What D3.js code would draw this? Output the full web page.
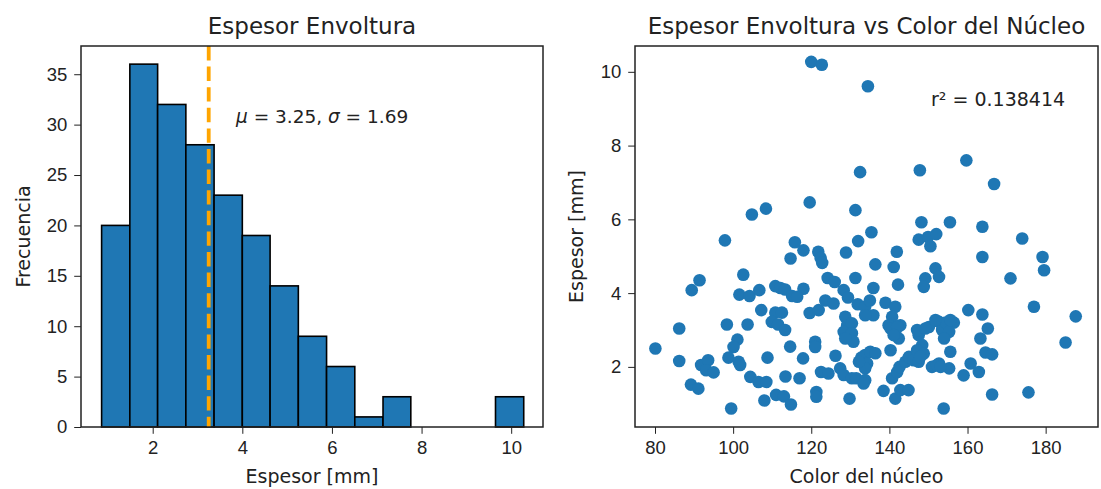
<!DOCTYPE html>
<html>

<head>
  <meta charset="utf-8">
  <title>Espesor Envoltura</title>
  <script type="text/javascript" src="https://cdn.jsdelivr.net/npm/d3@7"></script>
  <style>
    body { margin: 0; background: #fff; }
    svg { font-family: "DejaVu Sans", sans-serif; }
    .axis path, .axis line { stroke: #222; }
    .axis text { fill: #222; font-size: 18.5px; }
  </style>
</head>

<body>
  <script type="text/javascript">
    // Tamaño total
    const w = 1101;
    const h = 489;

    // Histograma: bordes de los bins y frecuencias
    const binEdges = [0.86, 1.49, 2.11, 2.74, 3.37, 4.00, 4.62, 5.25, 5.88, 6.51, 7.14, 7.76, 8.39, 9.02, 9.65, 10.28];
    const frecuencias = [20, 36, 32, 28, 23, 19, 14, 9, 6, 1, 3, 0, 0, 0, 3];
    const media = 3.25;
    const desv = 1.69;
    const histXTicks = [2, 4, 6, 8, 10];
    const histYTicks = [0, 5, 10, 15, 20, 25, 30, 35];

    // Dispersión: [color del núcleo, espesor]
    const puntos = [
      [120.0, 10.27], [122.7, 10.19], [134.5, 9.61], [132.5, 7.28], [147.8, 7.33], [159.7, 7.60], [166.8, 6.96],
      [119.6, 6.46], [131.3, 6.25], [104.8, 6.13], [108.4, 6.29], [148.2, 5.92], [155.5, 5.92], [163.8, 5.80],
      [135.4, 5.65], [174.0, 5.48], [97.9, 5.43], [115.8, 5.38], [132.0, 5.41], [147.5, 5.45], [149.9, 5.52],
      [152.0, 5.60], [150.5, 5.27], [118.0, 5.16], [114.7, 4.94], [121.8, 5.12], [122.4, 4.95], [122.8, 4.82],
      [128.9, 5.10], [136.4, 4.78], [141.9, 5.12], [141.1, 4.71], [142.2, 4.23], [151.8, 4.67], [149.2, 4.40],
      [148.8, 4.17], [152.7, 4.44], [163.8, 4.98], [179.2, 4.98], [179.6, 4.62], [171.0, 4.40], [177.0, 3.63],
      [187.7, 3.37], [185.1, 2.66], [102.6, 4.50], [91.4, 4.35], [89.4, 4.08], [101.6, 3.96], [104.2, 3.92],
      [106.7, 4.08], [110.8, 4.19], [112.1, 4.14], [113.3, 4.10], [115.1, 3.92], [107.2, 3.54], [110.8, 3.47],
      [112.5, 3.47], [109.9, 3.22], [111.5, 3.15], [113.3, 3.00], [86.2, 3.04], [98.4, 3.15], [103.7, 3.15],
      [80.1, 2.50], [101.1, 2.74], [100.1, 2.54], [98.8, 2.25], [101.4, 2.14], [101.8, 2.05], [86.2, 2.16],
      [91.8, 2.05], [93.6, 2.18], [93.1, 1.91], [95.0, 1.85], [108.8, 2.25], [114.6, 2.55], [104.4, 1.73],
      [106.5, 1.59], [108.5, 1.59], [89.2, 1.52], [91.1, 1.41], [111.0, 1.24], [113.0, 1.20], [108.0, 1.09],
      [114.8, 0.98], [113.4, 1.74], [99.5, 0.87], [118.0, 4.12], [116.4, 3.90], [119.6, 3.46], [121.9, 3.54],
      [123.6, 3.80], [125.7, 3.72], [124.2, 4.41], [126.0, 4.30], [131.3, 4.41], [135.9, 4.14], [121.0, 2.68],
      [121.0, 2.54], [117.9, 2.23], [126.2, 2.30], [122.5, 1.86], [124.4, 1.82], [127.4, 1.96], [128.3, 1.78],
      [130.4, 1.69], [131.5, 1.69], [121.3, 1.32], [121.3, 1.19], [117.0, 1.69], [129.8, 1.14], [128.3, 4.08],
      [129.4, 3.88], [131.9, 3.70], [133.8, 3.63], [135.0, 3.80], [135.9, 3.40], [133.8, 3.40], [128.7, 3.36],
      [129.2, 3.13], [130.4, 3.18], [128.3, 2.95], [130.4, 2.91], [130.8, 2.68], [128.7, 2.77], [139.0, 3.74],
      [141.5, 3.63], [140.7, 3.36], [139.8, 3.13], [141.5, 2.95], [142.8, 3.13], [142.4, 2.77], [140.3, 2.45],
      [132.8, 2.25], [133.8, 2.32], [135.1, 2.41], [136.4, 2.37], [134.3, 2.09], [133.8, 1.96], [133.8, 1.64],
      [132.2, 2.14], [138.5, 1.35], [141.5, 1.14], [142.8, 1.37], [144.9, 1.37], [140.7, 1.69], [142.0, 1.86],
      [142.6, 2.00], [144.1, 2.14], [145.0, 2.27], [146.2, 2.18], [147.5, 2.86], [148.4, 2.59], [147.1, 2.45],
      [148.8, 2.36], [147.5, 2.14], [147.1, 3.00], [150.1, 3.08], [152.7, 3.22], [153.5, 3.00], [150.9, 2.00],
      [152.7, 2.09], [153.9, 0.87], [160.2, 3.54], [163.8, 3.42], [165.2, 3.04], [163.3, 2.77], [164.6, 2.39],
      [166.3, 2.34], [156.5, 3.20], [154.4, 3.20], [155.3, 2.95], [154.0, 2.77], [155.6, 2.41], [152.2, 2.05],
      [155.3, 1.96], [159.0, 1.77], [160.8, 2.09], [162.9, 1.86], [166.3, 1.25], [175.6, 1.31], [133.4, 1.55],
      [140.3, 3.04], [142.0, 3.08], [141.1, 2.86], [149.2, 3.04], [151.8, 3.27], [155.6, 3.27], [147.9, 2.27],
      [153.1, 2.00]
    ];
    const r2 = 0.138414;
    const scatXTicks = [80, 100, 120, 140, 160, 180];
    const scatYTicks = [2, 4, 6, 8, 10];

    const svg = d3.select("body")
      .append("svg")
      .attr("width", w)
      .attr("height", h);

    const tickLen = 6.8;
    const tickPad = 6.8;

    // ---------- Histograma ----------
    const hx = d3.scaleLinear().domain([0.40, 10.71]).range([81, 543]);
    const hy = d3.scaleLinear().domain([0, 37.8]).range([427, 46]);

    const g1 = svg.append("g");

    // una barra por bin (los bins vacíos no se dibujan)
    const bins = frecuencias.map(function (d, i) {
      return { x0: binEdges[i], x1: binEdges[i + 1], n: d };
    }).filter(function (b) { return b.n > 0; });

    g1.selectAll("rect.bar")
      .data(bins)
      .enter()
      .append("rect")
      .attr("class", "bar")
      .attr("x", function (b) { return hx(b.x0); })
      .attr("y", function (b) { return hy(b.n); })
      .attr("width", function (b) { return hx(b.x1) - hx(b.x0); })
      .attr("height", function (b) { return hy(0) - hy(b.n); })
      .attr("fill", "#1f77b4")
      .attr("stroke", "#000")
      .attr("stroke-width", 1.6);

    // línea de la media
    g1.append("line")
      .attr("x1", hx(media)).attr("x2", hx(media))
      .attr("y1", hy.range()[1]).attr("y2", hy.range()[0])
      .attr("stroke", "orange")
      .attr("stroke-width", 3.8)
      .attr("stroke-dasharray", "14.4 6.2");

    const ann = g1.append("text")
      .attr("x", 236).attr("y", 123)
      .attr("font-size", 18.5)
      .attr("fill", "#222");
    ann.append("tspan").attr("font-style", "italic").text("μ");
    ann.append("tspan").text(" = " + media.toFixed(2) + ",  ");
    ann.append("tspan").attr("font-style", "italic").text("σ");
    ann.append("tspan").text(" = " + desv.toFixed(2));

    g1.append("g").attr("class", "axis")
      .attr("transform", "translate(0,427)")
      .call(d3.axisBottom(hx).tickValues(histXTicks).tickSize(tickLen).tickPadding(tickPad))
      .call(function (g) { g.select(".domain").remove(); });
    g1.append("g").attr("class", "axis")
      .attr("transform", "translate(81,0)")
      .call(d3.axisLeft(hy).tickValues(histYTicks).tickSize(tickLen).tickPadding(tickPad))
      .call(function (g) { g.select(".domain").remove(); });

    g1.append("rect")
      .attr("x", 81).attr("y", 46).attr("width", 543 - 81).attr("height", 427 - 46)
      .attr("fill", "none").attr("stroke", "#222").attr("stroke-width", 1.5);

    g1.append("text")
      .attr("x", (81 + 543) / 2).attr("y", 34)
      .attr("text-anchor", "middle").attr("font-size", 23).attr("fill", "#222")
      .text("Espesor Envoltura");
    g1.append("text")
      .attr("x", (81 + 543) / 2).attr("y", 483)
      .attr("text-anchor", "middle").attr("font-size", 19).attr("fill", "#222")
      .text("Espesor [mm]");
    g1.append("text")
      .attr("transform", "translate(30," + (46 + 427) / 2 + ") rotate(-90)")
      .attr("text-anchor", "middle").attr("font-size", 19).attr("fill", "#222")
      .text("Frecuencia");

    // ---------- Dispersión ----------
    const sx = d3.scaleLinear().domain([74.88, 193.4]).range([635, 1098]);
    const sy = d3.scaleLinear().domain([0.37, 10.70]).range([427, 46]);

    const g2 = svg.append("g");

    g2.selectAll("circle")
      .data(puntos)
      .enter()
      .append("circle")
      .attr("cx", function (d) { return sx(d[0]); })
      .attr("cy", function (d) { return sy(d[1]); })
      .attr("r", 6.3)
      .attr("fill", "#1f77b4");

    g2.append("g").attr("class", "axis")
      .attr("transform", "translate(0,427)")
      .call(d3.axisBottom(sx).tickValues(scatXTicks).tickSize(tickLen).tickPadding(tickPad))
      .call(function (g) { g.select(".domain").remove(); });
    g2.append("g").attr("class", "axis")
      .attr("transform", "translate(635,0)")
      .call(d3.axisLeft(sy).tickValues(scatYTicks).tickSize(tickLen).tickPadding(tickPad))
      .call(function (g) { g.select(".domain").remove(); });

    g2.append("rect")
      .attr("x", 635).attr("y", 46).attr("width", 1098 - 635).attr("height", 427 - 46)
      .attr("fill", "none").attr("stroke", "#222").attr("stroke-width", 1.5);

    g2.append("text")
      .attr("x", 931).attr("y", 106)
      .attr("font-size", 19).attr("fill", "#222")
      .text("r² = " + r2);

    g2.append("text")
      .attr("x", (635 + 1098) / 2).attr("y", 34)
      .attr("text-anchor", "middle").attr("font-size", 23).attr("fill", "#222")
      .text("Espesor Envoltura vs Color del Núcleo");
    g2.append("text")
      .attr("x", (635 + 1098) / 2).attr("y", 483)
      .attr("text-anchor", "middle").attr("font-size", 19).attr("fill", "#222")
      .text("Color del núcleo");
    g2.append("text")
      .attr("transform", "translate(583," + (46 + 427) / 2 + ") rotate(-90)")
      .attr("text-anchor", "middle").attr("font-size", 19).attr("fill", "#222")
      .text("Espesor [mm]");
  </script>
</body>

</html>
